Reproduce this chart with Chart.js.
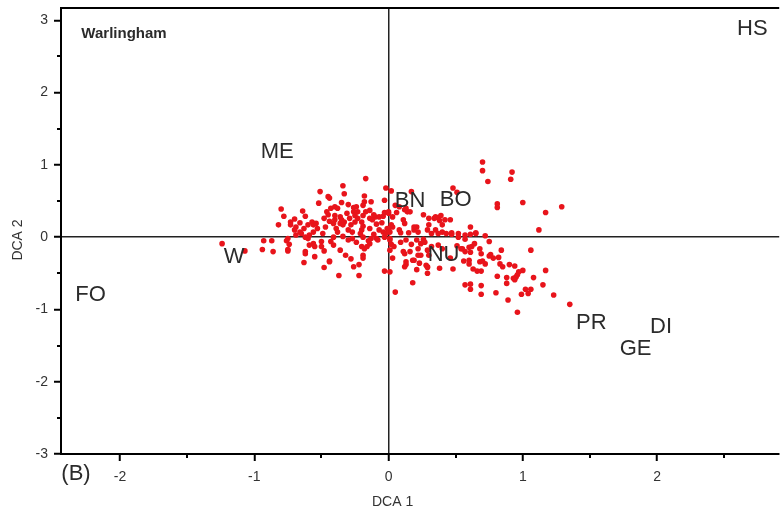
<!DOCTYPE html>
<html>
<head>
<meta charset="utf-8">
<script src="https://cdn.jsdelivr.net/npm/chart.js@4.4.0/dist/chart.umd.min.js"></script>
<style>
html,body{margin:0;padding:0;background:#fff;overflow:hidden}
</style>
</head>
<body>
<canvas id="myChart" width="782" height="517"></canvas>
<script>
// sample scores on DCA axis 1 and 2
var dcaX = [
  -1.24,-1.07,-0.93,-0.87,-0.94,-0.86,-0.76,-0.74,-0.75,-0.75,
  -0.62,-0.63,-0.55,-0.48,-0.48,-0.44,-0.75,-0.69,-0.65,-0.62,
  -0.60,-0.50,-0.50,-0.56,-0.59,-0.55,-0.62,-0.51,-0.52,-0.45,
  -0.80,-0.78,-0.82,-0.64,-0.62,-0.70,-0.73,-0.73,-0.69,-0.70,
  -0.66,-0.63,-0.60,-0.57,-0.56,-0.54,-0.53,-0.56,-0.59,-0.48,
  -0.46,-0.45,-0.43,-0.40,-0.38,-0.36,-0.33,-0.28,-0.25,-0.23,
  -0.19,-0.14,-0.10,-0.07,-0.34,-0.17,-0.33,-0.18,-0.02,0.02,
  -0.18,-0.13,-0.19,-0.03,-0.44,-0.35,-0.30,-0.26,-0.24,-0.26,
  -0.25,-0.17,-0.14,-0.11,-0.04,-0.03,0.00,-0.40,-0.36,-0.40,
  -0.41,-0.35,-0.34,-0.29,-0.23,-0.20,-0.19,-0.12,-0.09,-0.39,
  -0.30,-0.27,-0.20,-0.14,-0.07,-0.04,-0.01,-0.41,-0.34,-0.27,
  -0.19,-0.09,-0.03,0.01,-0.36,-0.32,-0.28,-0.26,-0.22,-0.22,
  -0.37,-0.19,-0.19,-0.14,-0.13,-0.08,-0.03,0.01,0.03,0.05,
  0.18,0.13,0.12,0.29,0.29,-0.43,-0.41,-0.44,-0.30,-0.24,
  -0.20,-0.18,0.12,0.22,0.29,0.30,0.18,-0.16,0.00,0.12,
  0.14,0.26,0.34,0.37,0.39,0.42,0.11,0.12,0.02,0.03,
  0.00,0.01,-0.02,0.08,0.09,0.15,0.19,0.21,0.22,0.29,
  0.32,0.37,0.40,0.43,0.47,0.52,0.57,0.61,0.65,0.61,
  0.75,0.01,0.02,0.04,0.01,0.09,0.13,0.17,0.21,0.24,
  0.26,0.27,0.32,0.37,0.40,0.11,0.16,0.22,0.24,0.13,
  0.19,0.23,0.28,0.21,0.29,0.38,0.48,0.55,0.57,0.62,
  0.69,0.60,0.78,0.05,0.08,0.13,0.16,0.06,0.03,0.19,
  0.30,0.35,0.38,0.40,0.30,0.35,0.17,0.70,0.70,0.74,
  0.92,0.91,1.00,0.81,0.81,1.17,1.29,1.12,0.48,0.51,
  0.46,0.65,0.72,0.57,0.47,0.52,0.64,0.51,0.54,0.60,
  0.61,0.68,0.46,0.56,0.60,0.63,0.66,0.69,0.68,0.70,
  0.72,0.75,0.76,0.82,0.84,0.83,0.85,0.90,0.94,1.06,
  1.17,1.00,0.97,0.96,0.95,0.93,0.94,0.81,0.88,0.88,
  1.08,0.57,0.61,0.61,0.69,0.69,0.80,1.02,1.04,1.06,
  0.99,1.15,1.23,0.89,1.35,0.96,
  -0.66,-0.47,-0.44,-0.31,-0.21,-0.11,-0.05,-0.49,-0.38,-0.15
];
var dcaY = [
  -0.09,-0.19,-0.05,-0.05,-0.17,-0.20,-0.05,-0.10,-0.17,-0.19,
  -0.20,-0.35,-0.27,-0.19,-0.42,-0.33,-0.02,0.03,0.05,0.00,
  -0.02,-0.06,-0.13,-0.09,-0.11,-0.13,-0.23,0.63,0.47,0.56,
  0.39,0.29,0.17,0.36,0.29,0.25,0.21,0.17,0.14,0.10,
  0.07,0.12,0.17,0.21,0.17,0.19,0.12,0.07,0.03,0.26,
  0.35,0.31,0.40,0.42,0.40,0.19,0.21,0.17,0.21,0.35,
  0.30,0.26,0.28,0.28,0.71,0.81,0.60,0.57,0.68,0.64,
  0.49,0.49,0.44,0.51,0.54,0.48,0.45,0.41,0.42,0.35,
  0.30,0.35,0.37,0.31,0.29,0.34,0.35,0.30,0.28,0.24,
  0.19,0.24,0.17,0.26,0.26,0.21,0.15,0.24,0.18,0.12,
  0.10,0.07,0.10,0.12,0.10,0.07,0.12,0.00,0.01,-0.02,
  0.00,-0.02,0.00,-0.02,-0.18,-0.25,-0.30,-0.41,-0.38,-0.53,
  -0.53,-0.25,-0.29,-0.09,-0.02,-0.04,-0.47,-0.48,-0.29,-0.76,
  -0.63,-0.38,-0.41,-0.50,-0.41,-0.06,-0.11,-0.34,-0.04,-0.07,
  -0.13,-0.16,-0.23,-0.16,-0.18,-0.25,-0.32,-0.13,0.33,0.38,
  0.35,0.31,0.26,0.27,0.30,0.24,0.24,0.19,0.17,0.14,
  0.12,0.07,0.05,0.10,0.06,0.06,0.10,0.14,0.07,0.10,
  0.05,0.05,0.07,0.05,0.04,0.05,0.03,0.04,0.05,0.14,
  -0.06,-0.04,-0.10,-0.13,-0.18,-0.07,-0.04,-0.10,-0.04,-0.09,
  -0.03,-0.07,-0.13,-0.11,-0.16,-0.20,-0.20,-0.25,-0.25,-0.34,
  -0.32,-0.36,-0.39,-0.45,-0.42,-0.43,-0.44,-0.16,-0.20,-0.13,
  -0.23,-0.32,-0.29,0.44,0.42,0.40,0.35,0.34,0.28,0.14,
  0.26,0.28,0.23,0.17,0.17,0.10,0.63,1.04,0.92,0.77,
  0.90,0.80,0.48,0.46,0.41,0.34,0.42,0.10,0.68,0.62,
  0.24,0.06,0.02,-0.03,0.06,0.00,-0.09,-0.12,-0.16,-0.14,
  -0.21,-0.16,-0.29,-0.33,-0.37,-0.44,-0.47,-0.47,-0.34,-0.33,
  -0.37,-0.26,-0.24,-0.28,-0.18,-0.37,-0.41,-0.38,-0.40,-0.18,
  -0.46,-0.46,-0.48,-0.52,-0.55,-0.57,-0.59,-0.54,-0.56,-0.64,
  -0.56,-0.66,-0.65,-0.72,-0.67,-0.79,-0.77,-0.72,-0.78,-0.72,
  -0.79,-0.66,-0.80,-0.87,-0.93,-1.04,
  0.20,0.14,0.22,0.33,0.05,0.04,0.20,0.05,0.07,-0.05
];
// variable labels placed in the ordination space
var siteNames = ['HS','ME','BN','BO','W','NU','FO','PR','DI','GE'];
var siteX = [2.71,-0.83,0.16,0.50,-1.15,0.41,-2.22,1.51,2.03,1.84];
var siteY = [2.88,1.18,0.50,0.51,-0.28,-0.25,-0.80,-1.18,-1.24,-1.54];
// minor tick positions
var xMinor = [-1.5,-0.5,0.5,1.5,2.5];
var yMinor = [-2.5,-1.5,-0.5,0.5,1.5,2.5];

var FONT = '"Liberation Sans", Arial, sans-serif';

var points = dcaX.map(function (x, i) { return {x: x, y: dcaY[i]}; });

var overlay = {
  id: 'overlay',
  afterDraw: function (chart) {
    var ctx = chart.ctx, a = chart.chartArea;
    var xs = chart.scales.x, ys = chart.scales.y;
    ctx.save();
    // top frame
    ctx.strokeStyle = '#000';
    ctx.lineWidth = 2;
    ctx.beginPath(); ctx.moveTo(a.left, a.top); ctx.lineTo(a.right, a.top); ctx.stroke();
    // minor ticks
    xMinor.forEach(function (v) {
      var p = Math.round(xs.getPixelForValue(v));
      ctx.beginPath(); ctx.moveTo(p, a.bottom); ctx.lineTo(p, a.bottom + 4); ctx.stroke();
    });
    yMinor.forEach(function (v) {
      var p = Math.round(ys.getPixelForValue(v));
      ctx.beginPath(); ctx.moveTo(a.left, p); ctx.lineTo(a.left - 4, p); ctx.stroke();
    });
    // labels
    ctx.fillStyle = '#2b2b2b';
    ctx.textAlign = 'center';
    ctx.textBaseline = 'middle';
    ctx.font = '22px ' + FONT;
    siteNames.forEach(function (s, i) {
      ctx.fillText(s, xs.getPixelForValue(siteX[i]), ys.getPixelForValue(siteY[i]));
    });
    ctx.fillText('(B)', a.left + 15, a.bottom + 20);
    ctx.font = 'bold 15px ' + FONT;
    ctx.fillText('Warlingham', a.left + 63, a.top + 26);
    // axis titles
    ctx.fillStyle = '#333';
    ctx.font = '14px ' + FONT;
    ctx.fillText('DCA 1', xs.getPixelForValue(0) + 4, 502);
    ctx.translate(18, 240);
    ctx.rotate(-Math.PI / 2);
    ctx.fillText('DCA 2', 0, 0);
    ctx.restore();
  }
};

function isMajor(v) { return Math.abs(v - Math.round(v)) < 1e-6; }

var gridOpts = {
  drawOnChartArea: true,
  drawTicks: true,
  tickLength: 7,
  tickWidth: 2,
  lineWidth: 1.5,
  color: function (c) { return c.tick && c.tick.value === 0 ? '#222' : 'rgba(0,0,0,0)'; },
  tickColor: function (c) { return c.tick && isMajor(c.tick.value) ? '#000' : 'rgba(0,0,0,0)'; }
};

const config = {
  type: 'scatter',
  data: {
    datasets: [{
      label: 'samples',
      data: points,
      pointRadius: 2.8,
      pointHoverRadius: 2.8,
      pointBackgroundColor: '#e8141b',
      pointBorderWidth: 0
    }]
  },
  options: {
    responsive: false,
    animation: false,
    events: [],
    layout: { padding: { top: 8, right: 0, left: 0, bottom: 0 } },
    plugins: { legend: { display: false }, tooltip: { enabled: false } },
    scales: {
      x: {
        type: 'linear',
        min: -2.44,
        max: 2.91,
        border: { display: true, color: '#000', width: 2 },
        grid: gridOpts,
        ticks: {
          stepSize: 0.5,
          includeBounds: false,
          autoSkip: false,
          maxRotation: 0,
          padding: 8,
          color: '#333',
          font: { size: 14, family: FONT },
          callback: function (v) { return isMajor(v) ? String(Math.round(v)) : ''; }
        },
        afterFit: function (s) { s.height = 63; s.paddingLeft = 0; s.paddingRight = 0; }
      },
      y: {
        type: 'linear',
        min: -3,
        max: 3.17,
        border: { display: true, color: '#000', width: 2 },
        grid: gridOpts,
        ticks: {
          stepSize: 0.5,
          includeBounds: false,
          autoSkip: false,
          padding: 6,
          color: '#333',
          font: { size: 14, family: FONT },
          callback: function (v) { return isMajor(v) ? String(Math.round(v)) : ''; }
        },
        afterFit: function (s) { s.width = 61; s.paddingTop = 0; s.paddingBottom = 0; }
      }
    }
  },
  plugins: [overlay]
};

const myChart = new Chart(document.getElementById('myChart'), config);
</script>
</body>
</html>
